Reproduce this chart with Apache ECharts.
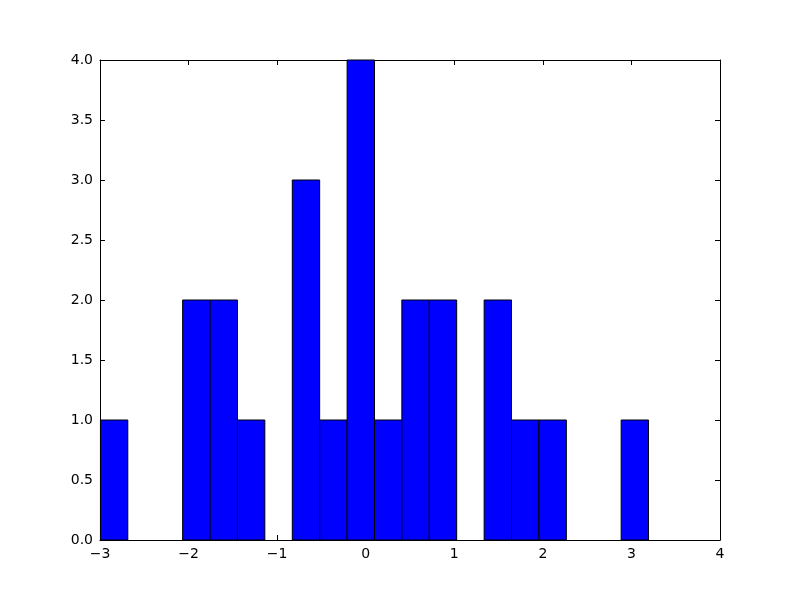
<!DOCTYPE html>
<html>
<head>
<meta charset="utf-8">
<script src="https://cdn.jsdelivr.net/npm/echarts@6/dist/echarts.min.js"></script>
<style>html,body{margin:0;padding:0;background:#fff;}#chart{width:800px;height:600px;}</style>
</head>
<body>
<div id="chart"></div>
<script>
var binEdges = [-2.995, -2.686, -2.376, -2.067, -1.757, -1.448, -1.139, -0.829, -0.520, -0.210, 0.099, 0.408, 0.718, 1.027, 1.337, 1.646, 1.955, 2.265, 2.574, 2.884, 3.193];
var counts = [1, 0, 0, 2, 2, 1, 0, 3, 1, 4, 1, 2, 2, 0, 2, 1, 1, 0, 0, 1];
var xTicks = [-3, -2, -1, 0, 1, 2, 3, 4];
var yTicks = [0.0, 0.5, 1.0, 1.5, 2.0, 2.5, 3.0, 3.5, 4.0];

var data = [];
for (var i = 0; i < counts.length; i++) {
  if (counts[i] > 0) data.push([binEdges[i], binEdges[i + 1], counts[i]]);
}
var font = 'DejaVu Sans';
function fmtX(v) { return String(v).replace('-', '\u2212'); }
function fmtY(v) { return v.toFixed(1); }
var tickStyle = { show: true, inside: true, length: 5, lineStyle: { color: '#000', width: 1 } };
var lineStyle = { show: true, onZero: false, lineStyle: { color: '#000', width: 1 } };
var chart = echarts.init(document.getElementById('chart'));
chart.setOption({
  animation: false,
  backgroundColor: '#fff',
  grid: { left: 100, right: 80, top: 60, bottom: 60, show: false },
  xAxis: [
    { type: 'value', position: 'bottom', min: xTicks[0], max: xTicks[xTicks.length - 1], interval: 1,
      axisLine: lineStyle, axisTick: tickStyle, splitLine: { show: false },
      axisLabel: { formatter: fmtX, color: '#000', fontFamily: font, fontSize: 14, margin: 7 } },
    { type: 'value', position: 'top', min: xTicks[0], max: xTicks[xTicks.length - 1], interval: 1,
      axisLine: lineStyle, axisTick: tickStyle, splitLine: { show: false }, axisLabel: { show: false } }
  ],
  yAxis: [
    { type: 'value', position: 'left', min: yTicks[0], max: yTicks[yTicks.length - 1], interval: 0.5,
      axisLine: lineStyle, axisTick: tickStyle, splitLine: { show: false },
      axisLabel: { formatter: fmtY, color: '#000', fontFamily: font, fontSize: 14, margin: 7 } },
    { type: 'value', position: 'right', min: yTicks[0], max: yTicks[yTicks.length - 1], interval: 0.5,
      axisLine: lineStyle, axisTick: tickStyle, splitLine: { show: false }, axisLabel: { show: false } }
  ],
  series: [{
    type: 'custom',
    xAxisIndex: 0, yAxisIndex: 0,
    data: data,
    renderItem: function (params, api) {
      var p0 = api.coord([api.value(0), api.value(2)]);
      var p1 = api.coord([api.value(1), 0]);
      return { type: 'rect',
        shape: { x: p0[0], y: p0[1], width: p1[0] - p0[0], height: p1[1] - p0[1] },
        style: { fill: '#0000ff', stroke: '#000', lineWidth: 1 } };
    }
  }]
});
</script>
</body>
</html>
